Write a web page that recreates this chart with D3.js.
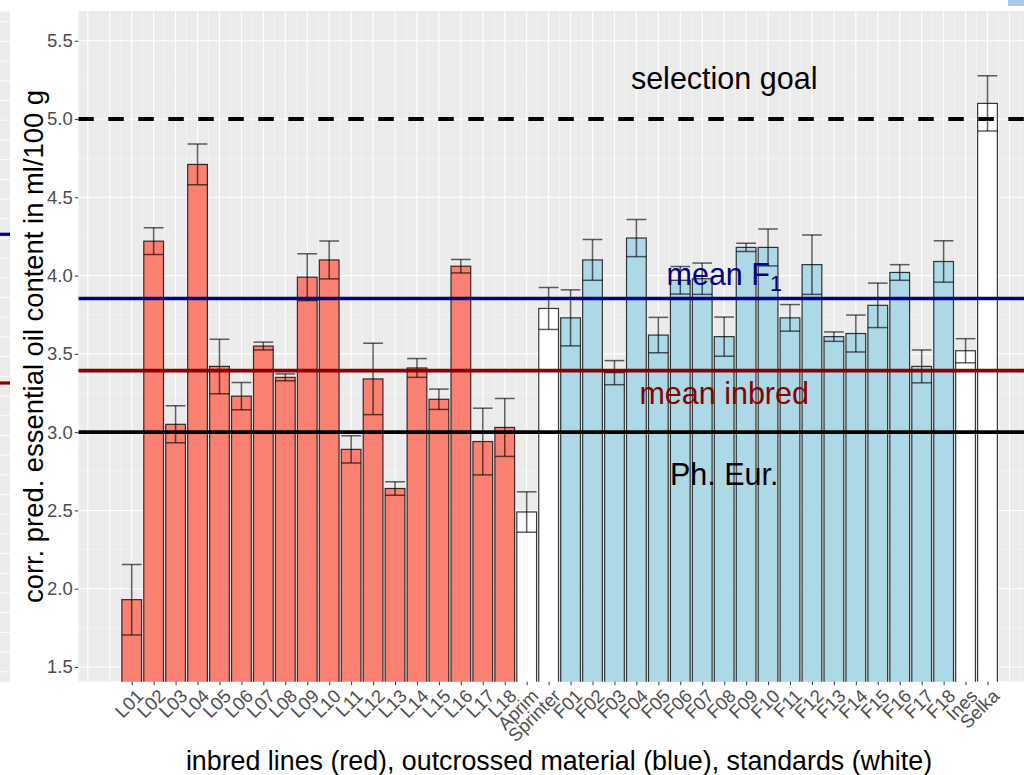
<!DOCTYPE html>
<html>
<head>
<meta charset="utf-8">
<script src="https://cdn.jsdelivr.net/npm/d3@7"></script>
<style>
  html, body { margin: 0; padding: 0; background: #ffffff; }
  svg { display: block; font-family: "Liberation Sans", Arial, Helvetica, sans-serif; }
</style>
</head>
<body>
<svg id="chart" width="1024" height="775"></svg>
<script>
// Genotypes along the x axis
const inbredLines = ["L01","L02","L03","L04","L05","L06","L07","L08","L09","L10","L11","L12","L13","L14","L15","L16","L17","L18"];
const standardsA = ["Aprim","Sprinter"];
const f1Lines = ["F01","F02","F03","F04","F05","F06","F07","F08","F09","F10","F11","F12","F13","F14","F15","F16","F17","F18"];
const standardsB = ["Ines","Selka"];

// Predicted essential oil content (ml/100 g) and standard errors
const inbredValues = [1.93,4.22,3.05,4.71,3.42,3.23,3.55,3.35,3.99,4.10,2.89,3.34,2.64,3.41,3.21,4.06,2.94,3.03];
const inbredSE     = [0.225,0.086,0.118,0.13,0.174,0.087,0.025,0.022,0.15,0.121,0.087,0.228,0.043,0.06,0.065,0.043,0.213,0.185];
const standardsAValues = [2.49,3.79];
const standardsASE     = [0.129,0.134];
const f1Values = [3.73,4.10,3.38,4.24,3.62,3.97,3.98,3.61,4.18,4.18,3.73,4.07,3.61,3.63,3.81,4.02,3.42,4.09];
const f1SE     = [0.179,0.13,0.077,0.119,0.113,0.088,0.10,0.125,0.026,0.118,0.085,0.19,0.03,0.118,0.142,0.05,0.105,0.132];
const standardsBValues = [3.52,5.10];
const standardsBSE     = [0.077,0.177];

// Reference levels
const selectionGoal = 5.0;
const pharmacopoeia = 3.0;
const yTicks = [1.5,2.0,2.5,3.0,3.5,4.0,4.5,5.0,5.5];

const groupFill = { inbred: "#FA8072", f1: "#ADD8E6", standard: "#FFFFFF" };

const rows = [];
function addGroup(names, vals, ses, group) {
  names.forEach((n, i) => rows.push({ name: n, value: vals[i], se: ses[i], group }));
}
addGroup(inbredLines, inbredValues, inbredSE, "inbred");
addGroup(standardsA, standardsAValues, standardsASE, "standard");
addGroup(f1Lines, f1Values, f1SE, "f1");
addGroup(standardsB, standardsBValues, standardsBSE, "standard");

const meanInbred = d3.mean(inbredValues);
const meanF1 = d3.mean(f1Values);

const svg = d3.select("#chart");

// Plot panel
const panel = { left: 78.3, top: 10.7, right: 1024, bottom: 681.7 };

const x = d3.scalePoint().domain(rows.map(d => d.name)).range([131.7, 987.5]);
const step = x.step();
const barW = step * 0.9;
const y = d3.scaleLinear().domain([1.406, 5.692]).range([panel.bottom, panel.top]);

// Neighbouring panel sliver on the far left
const side = { left: 0, right: 10, top: 11.7, bottom: 681.7 };
svg.append("rect").attr("x", side.left).attr("y", side.top)
  .attr("width", side.right - side.left).attr("height", side.bottom - side.top).attr("fill", "#EBEBEB");
const sideY = d3.scaleLinear().domain([meanInbred, meanF1]).range([383, 234.3]);
const sideGrid = d3.range(21.7, side.bottom, 19.7);
svg.append("g").selectAll("line").data(sideGrid).join("line")
  .attr("x1", side.left).attr("x2", side.right).attr("y1", d => d).attr("y2", d => d)
  .attr("stroke", "#ffffff").attr("stroke-width", 0.9);
svg.append("line").attr("x1", side.left).attr("x2", side.right)
  .attr("y1", sideY(meanF1)).attr("y2", sideY(meanF1)).attr("stroke", "#00008B").attr("stroke-width", 3.2);
svg.append("line").attr("x1", side.left).attr("x2", side.right)
  .attr("y1", sideY(meanInbred)).attr("y2", sideY(meanInbred)).attr("stroke", "#8B0000").attr("stroke-width", 3.2);

// Window widget corner at top right
svg.append("rect").attr("x", 1008).attr("y", 0).attr("width", 16).attr("height", 6).attr("fill", "#A9C8EE");

// Panel background and grid
const defs = svg.append("defs");
defs.append("clipPath").attr("id", "panelClip").append("rect")
  .attr("x", panel.left).attr("y", panel.top)
  .attr("width", panel.right - panel.left).attr("height", panel.bottom - panel.top);

const plot = svg.append("g").attr("clip-path", "url(#panelClip)");
plot.append("rect").attr("x", panel.left).attr("y", panel.top)
  .attr("width", panel.right - panel.left).attr("height", panel.bottom - panel.top).attr("fill", "#EBEBEB");

// minor horizontal grid
const yMinor = d3.range(1.25, 6.0, 0.5);
plot.append("g").selectAll("line").data(yMinor).join("line")
  .attr("x1", panel.left).attr("x2", panel.right)
  .attr("y1", d => y(d)).attr("y2", d => y(d))
  .attr("stroke", "#F7F7F7").attr("stroke-width", 0.6);
// vertical grid (categories and half steps), extending across the whole panel
const x0 = x(rows[0].name);
const kMin = Math.floor((panel.left - x0) / step) - 1;
const kMax = Math.ceil((panel.right - x0) / step) + 1;
const vMinor = d3.range(kMin, kMax).map(k => x0 + (k + 0.5) * step);
const vMajor = d3.range(kMin, kMax + 1).map(k => x0 + k * step);
plot.append("g").selectAll("line").data(vMinor).join("line")
  .attr("x1", d => d).attr("x2", d => d).attr("y1", panel.top).attr("y2", panel.bottom)
  .attr("stroke", "#F7F7F7").attr("stroke-width", 0.6);
plot.append("g").selectAll("line").data(yTicks).join("line")
  .attr("x1", panel.left).attr("x2", panel.right)
  .attr("y1", d => y(d)).attr("y2", d => y(d))
  .attr("stroke", "#ffffff").attr("stroke-width", 1.1);
plot.append("g").selectAll("line").data(vMajor).join("line")
  .attr("x1", d => d).attr("x2", d => d).attr("y1", panel.top).attr("y2", panel.bottom)
  .attr("stroke", "#ffffff").attr("stroke-width", 1.1);

// Bars
plot.append("g").selectAll("rect").data(rows).join("rect")
  .attr("x", d => x(d.name) - barW / 2)
  .attr("width", barW)
  .attr("y", d => y(d.value))
  .attr("height", d => y(0) - y(d.value))
  .attr("fill", d => groupFill[d.group])
  .attr("stroke", "rgba(0,0,0,0.78)")
  .attr("stroke-width", 1.2);

// Error bars
const eb = plot.append("g").attr("stroke", "rgba(0,0,0,0.62)").attr("stroke-width", 1.5).attr("fill", "none");
rows.forEach(d => {
  const cx = x(d.name), hi = y(d.value + d.se), lo = y(d.value - d.se);
  eb.append("line").attr("x1", cx).attr("x2", cx).attr("y1", hi).attr("y2", lo);
  eb.append("line").attr("x1", cx - barW / 2).attr("x2", cx + barW / 2).attr("y1", hi).attr("y2", hi);
  eb.append("line").attr("x1", cx - barW / 2).attr("x2", cx + barW / 2).attr("y1", lo).attr("y2", lo);
});

// Reference lines
plot.append("line").attr("x1", panel.left).attr("x2", panel.right)
  .attr("y1", y(selectionGoal)).attr("y2", y(selectionGoal))
  .attr("stroke", "#000").attr("stroke-width", 4).attr("stroke-dasharray", "15.5,14.5");
plot.append("line").attr("x1", panel.left).attr("x2", panel.right)
  .attr("y1", y(meanF1)).attr("y2", y(meanF1)).attr("stroke", "#00008B").attr("stroke-width", 3.6);
plot.append("line").attr("x1", panel.left).attr("x2", panel.right)
  .attr("y1", y(meanInbred)).attr("y2", y(meanInbred)).attr("stroke", "#8B0000").attr("stroke-width", 3.6);
plot.append("line").attr("x1", panel.left).attr("x2", panel.right)
  .attr("y1", y(pharmacopoeia)).attr("y2", y(pharmacopoeia)).attr("stroke", "#000").attr("stroke-width", 3.6);

// Annotations
const labelAt = "F08";
const annFont = 30.5;
plot.append("text").attr("x", x(labelAt)).attr("y", y(5.26)).attr("dy", "0.35em")
  .attr("text-anchor", "middle").attr("font-size", annFont).attr("fill", "#000").text("selection goal");
const mf = plot.append("text").attr("x", x(labelAt)).attr("y", y(4.01)).attr("dy", "0.35em")
  .attr("text-anchor", "middle").attr("font-size", annFont).attr("fill", "#00008B");
mf.append("tspan").text("mean F");
mf.append("tspan").attr("font-size", annFont * 0.7).attr("dy", "0.3em").text("1");
plot.append("text").attr("x", x(labelAt)).attr("y", y(3.25)).attr("dy", "0.35em")
  .attr("text-anchor", "middle").attr("font-size", annFont).attr("fill", "#8B0000").text("mean inbred");
plot.append("text").attr("x", x(labelAt)).attr("y", y(2.73)).attr("dy", "0.35em")
  .attr("text-anchor", "middle").attr("font-size", annFont).attr("fill", "#000").text("Ph. Eur.");

// Y axis
const yAxis = svg.append("g").attr("transform", `translate(${panel.left},0)`)
  .call(d3.axisLeft(y).tickValues(yTicks).tickFormat(d3.format(".1f")).tickSize(3.5).tickPadding(2));
yAxis.select(".domain").remove();
yAxis.selectAll(".tick line").attr("stroke", "#333333").attr("stroke-width", 1);
yAxis.selectAll(".tick text").attr("fill", "#4D4D4D").attr("font-size", 18.5)
  .style("font-family", "'Liberation Sans', Arial, sans-serif");

// X axis
const xAxis = svg.append("g").attr("transform", `translate(0,${panel.bottom})`)
  .call(d3.axisBottom(x).tickSize(3.5).tickPadding(2));
xAxis.select(".domain").remove();
xAxis.selectAll(".tick line").attr("stroke", "#333333").attr("stroke-width", 1);
xAxis.selectAll(".tick text")
  .attr("fill", "#4D4D4D").attr("font-size", 18.5)
  .style("font-family", "'Liberation Sans', Arial, sans-serif")
  .attr("text-anchor", "end")
  .attr("x", 0).attr("y", 0).attr("dy", "0.72em")
  .attr("transform", "translate(3,6) rotate(-45)");

// Axis titles
svg.append("text")
  .attr("transform", `translate(43,${(95 + 598) / 2}) rotate(-90)`)
  .attr("text-anchor", "middle").attr("font-size", 27.4).attr("fill", "#000")
  .text("corr. pred. essential oil content in ml/100 g");
svg.append("text")
  .attr("x", 559).attr("y", 770)
  .attr("text-anchor", "middle").attr("font-size", 26.8).attr("fill", "#000")
  .text("inbred lines (red), outcrossed material (blue), standards (white)");
</script>
</body>
</html>
